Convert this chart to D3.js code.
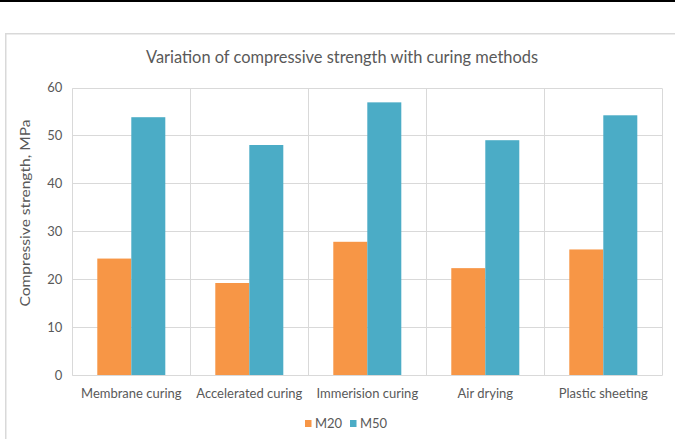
<!DOCTYPE html>
<html>
<head>
<meta charset="utf-8">
<script src="https://cdn.jsdelivr.net/npm/d3@7"></script>
<style>
  html, body { margin: 0; padding: 0; background: #fff; }
  svg { display: block; }
  text { font-family: Lato, "Open Sans", sans-serif; fill: #595959; }
</style>
</head>
<body>
<svg id="chart" width="675" height="439"></svg>
<script>
// Compressive strength (MPa) by curing method
const categories = ["Membrane curing", "Accelerated curing", "Immerision curing", "Air drying", "Plastic sheeting"];
const seriesNames = ["M20", "M50"];
const m20Values = [24.3, 19.2, 27.8, 22.3, 26.2];
const m50Values = [53.8, 48.0, 56.9, 49.0, 54.2];
const yTicks = [0, 10, 20, 30, 40, 50, 60];
const seriesColors = ["#F79646", "#4BACC6"];

const svg = d3.select("#chart");
const W = 675, H = 439;

// top dark band and chart frame
svg.append("rect").attr("x", 0).attr("y", 0).attr("width", W).attr("height", 2).attr("fill", "#000");
svg.append("rect")
  .attr("x", 5.75).attr("y", 33.75).attr("width", 700).attr("height", 450)
  .attr("fill", "#fff").attr("stroke", "#d9d9d9").attr("stroke-width", 1.5);

const plot = { left: 72.3, right: 662.3, top: 87.5, bottom: 375 };

const x = d3.scaleBand().domain(categories).range([plot.left, plot.right]).padding(0);
const xs = d3.scaleBand().domain(seriesNames).range([0, x.bandwidth()]).paddingInner(0).paddingOuter(0.735);
const y = d3.scaleLinear().domain([0, 60]).range([plot.bottom, plot.top]);

const gridColor = "#d9d9d9";

// horizontal gridlines
svg.append("g").selectAll("line").data(yTicks).join("line")
  .attr("x1", plot.left).attr("x2", plot.right)
  .attr("y1", d => Math.round(y(d)) + 0.5).attr("y2", d => Math.round(y(d)) + 0.5)
  .attr("stroke", gridColor).attr("stroke-width", 1);

// vertical gridlines at category boundaries
const bounds = categories.map(c => x(c)).concat([plot.right]);
svg.append("g").selectAll("line").data(bounds).join("line")
  .attr("x1", d => Math.round(d) + 0.5).attr("x2", d => Math.round(d) + 0.5)
  .attr("y1", Math.round(y(60)) + 0.5).attr("y2", Math.round(y(0)) + 0.5)
  .attr("stroke", gridColor).attr("stroke-width", 1);

// bars
const rows = categories.map((c, i) => ({ cat: c, vals: [m20Values[i], m50Values[i]] }));
const groups = svg.append("g").selectAll("g").data(rows).join("g")
  .attr("transform", d => `translate(${x(d.cat)},0)`);
groups.selectAll("rect").data(d => d.vals.map((v, j) => ({ s: seriesNames[j], v, j }))).join("rect")
  .attr("x", d => xs(d.s))
  .attr("width", xs.bandwidth())
  .attr("y", d => y(d.v))
  .attr("height", d => y(0) - y(d.v))
  .attr("fill", d => seriesColors[d.j]);

// y axis tick labels
const yAxis = d3.axisLeft(y).tickValues(yTicks).tickSize(0).tickPadding(10);
const gy = svg.append("g").attr("transform", `translate(${plot.left},0)`).call(yAxis);
gy.select(".domain").remove();
gy.selectAll("text").attr("font-size", 13).attr("font-family", "Lato, sans-serif").attr("fill", "#595959");

// x axis category labels
const xAxis = d3.axisBottom(x).tickSize(0).tickPadding(14);
const gx = svg.append("g").attr("transform", `translate(0,${plot.bottom})`).call(xAxis);
gx.select(".domain").remove();
gx.selectAll("text").attr("font-size", 13).attr("font-family", "Lato, sans-serif").attr("fill", "#595959");

// title
svg.append("text")
  .attr("x", 342).attr("y", 63)
  .attr("text-anchor", "middle")
  .attr("font-size", 17)
  .attr("textLength", 392).attr("lengthAdjust", "spacingAndGlyphs")
  .text("Variation of compressive strength with curing methods");

// y axis title
svg.append("text")
  .attr("transform", "translate(30,213) rotate(-90)")
  .attr("text-anchor", "middle")
  .attr("font-size", 14)
  .attr("textLength", 187).attr("lengthAdjust", "spacingAndGlyphs")
  .text("Compressive strength, MPa");

// legend
const legendX = [305, 350];
const leg = svg.append("g").selectAll("g").data(seriesNames).join("g")
  .attr("transform", (d, i) => `translate(${legendX[i]},420)`);
leg.append("rect").attr("width", 6.5).attr("height", 7).attr("fill", (d, i) => seriesColors[i]);
leg.append("text").attr("x", 10).attr("y", 7.5).attr("font-size", 13).text(d => d);
</script>
</body>
</html>
